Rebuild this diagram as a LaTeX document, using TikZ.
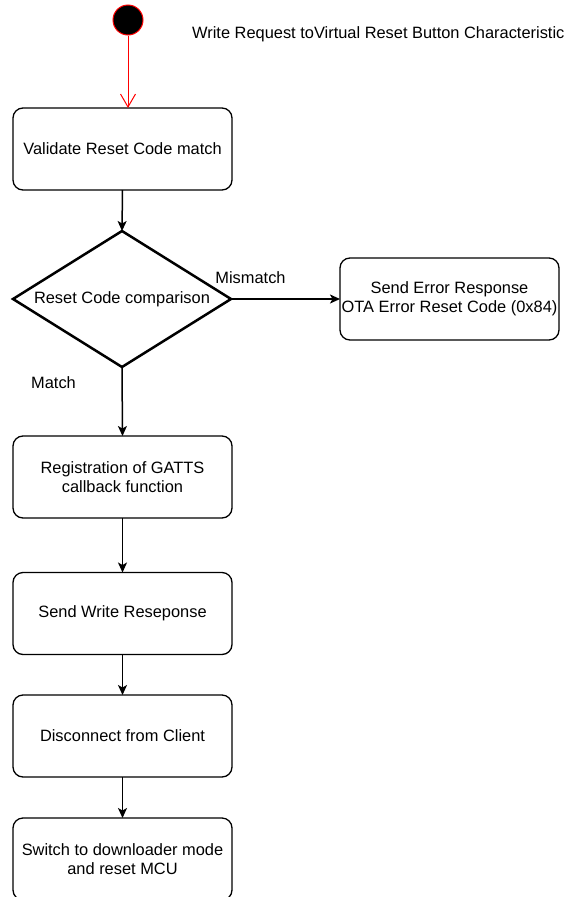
\documentclass[tikz,border=0pt]{standalone}
\usepackage{fontspec}
\setmainfont{Liberation Sans}
\usetikzlibrary{shapes.geometric,arrows.meta}
\begin{document}
\begin{tikzpicture}[x=1pt,y=-1pt,
  txt/.style={font=\fontsize{16.4}{19}\selectfont, align=center},
  stepbox/.style={txt, draw=black, line width=1.3pt, fill=white, rounded corners=10pt,
    minimum width=219pt, minimum height=82pt, inner sep=0pt, outer sep=0pt},
  decision/.style={draw=black, line width=2.5pt, fill=white, shape=diamond,
    minimum width=218pt, minimum height=136pt, inner sep=0pt, outer sep=0pt},
  flow/.style={draw=black, line width=1.5pt, -{Stealth[length=10pt,width=9pt,inset=2.5pt]}},
  redflow/.style={draw=red, line width=1pt, -{Straight Barb[length=13pt,width=15pt]}},
  lbl/.style={font=\fontsize{16.4}{19}\selectfont, inner sep=0pt}
]
\useasboundingbox (0,0) rectangle (565,897);
\fill[white] (0,0) rectangle (565,897);

\node[circle, fill=black, draw=red, line width=1pt, minimum size=30pt, inner sep=0pt] (start) at (128,20) {};
\node[lbl, anchor=west] (title) at (192,34) {Write Request toVirtual Reset Button Characteristic};

\node[stepbox] (b1) at (122.5,149) {Validate Reset Code match};
\node[decision, label={[txt]center:Reset Code comparison}] (d) at (122,299) {};
\node[stepbox] (err) at (449.5,299) {Send Error Response\\OTA Error Reset Code (0x84)};
\node[stepbox] (b2) at (122.5,477) {Registration of GATTS\\callback function};
\node[stepbox] (b3) at (122.5,613.5) {Send Write Reseponse};
\node[stepbox] (b4) at (122.5,736) {Disconnect from Client};
\node[stepbox] (b5) at (122.5,859) {Switch to downloader mode\\and reset MCU};

\node[lbl] (mm) at (250.5,278) {Mismatch};
\node[lbl] (mt) at (53.5,383) {Match};

\draw[redflow] (start.south) -- (start.south |- b1.north);
\draw[flow] (b1.south) -- (d.north);
\draw[flow] (d.east) -- (err.west);
\draw[flow] (d.south) -- (b2.north);
\draw[flow] (b2.south) -- (b3.north);
\draw[flow] (b3.south) -- (b4.north);
\draw[flow] (b4.south) -- (b5.north);
\end{tikzpicture}
\end{document}
